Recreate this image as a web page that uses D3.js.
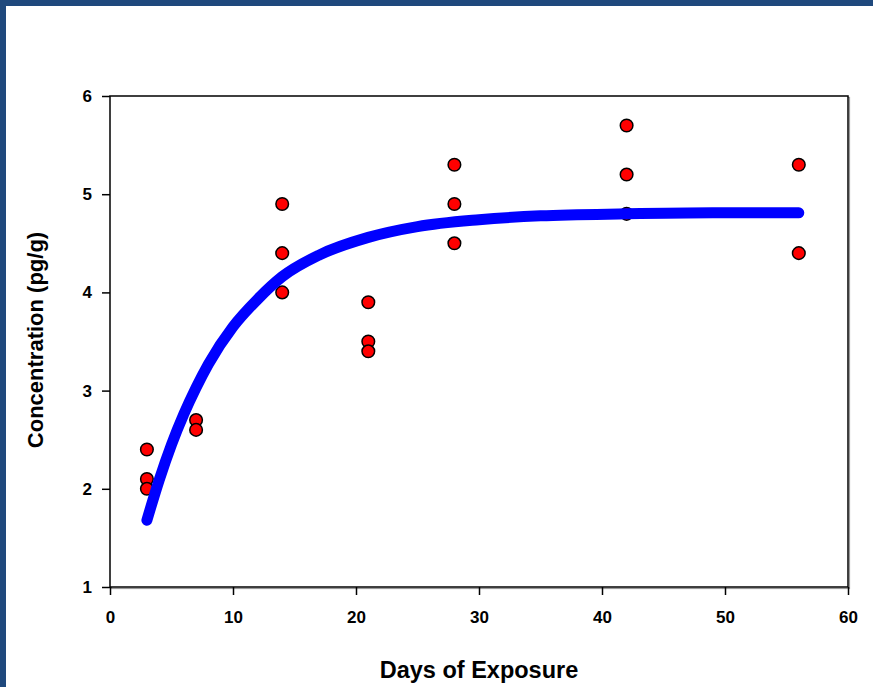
<!DOCTYPE html>
<html><head><meta charset="utf-8">
<script src="https://cdn.jsdelivr.net/npm/d3@7"></script>
<style>html,body{margin:0;padding:0;background:#fff;}svg{display:block;}</style>
</head><body>
<svg id="chart" width="873" height="687"></svg>
<script>
// Observed data points
const obsDays = [3,3,3, 7,7, 14,14,14, 21,21,21, 28,28,28, 42,42,42, 56,56];
const obsConc = [2.4,2.1,2.0, 2.7,2.6, 4.9,4.4,4.0, 3.9,3.5,3.4, 5.3,4.9,4.5, 5.7,5.2,4.8, 5.3,4.4];
// Fitted curve
const fitDays = [3,4,5,6,7,8,10,12,14,17,21,25,30,35,42,49,56];
const fitConc = [1.68,2.09,2.45,2.76,3.03,3.27,3.65,3.93,4.16,4.38,4.56,4.67,4.74,4.78,4.80,4.81,4.81];
const xTicks = [0,10,20,30,40,50,60];
const yTicks = [1,2,3,4,5,6];

const svg = d3.select("#chart");
// frame border (top and left bands)
svg.append("rect").attr("x",0).attr("y",0).attr("width",873).attr("height",6).attr("fill","#1f497d");
svg.append("rect").attr("x",0).attr("y",0).attr("width",6).attr("height",687).attr("fill","#1f497d");

const L=110, R=848, T=96, B=587;
const x = d3.scaleLinear().domain([0,60]).range([L,R]);
const y = d3.scaleLinear().domain([1,6]).range([B,T]);

// plot box shadow + frame
svg.append("rect").attr("x",L+1.5).attr("y",T+1.5).attr("width",R-L).attr("height",B-T)
  .attr("fill","none").attr("stroke","#999").attr("stroke-width",1.2);
svg.append("rect").attr("x",L).attr("y",T).attr("width",R-L).attr("height",B-T)
  .attr("fill","#fff").attr("stroke","#000").attr("stroke-width",1.5);

const font = "Arial, 'Liberation Sans', sans-serif";
const xAxis = svg.append("g").attr("transform",`translate(0,${B})`)
  .call(d3.axisBottom(x).tickValues(xTicks).tickSize(8).tickPadding(10).tickFormat(d3.format("d")));
const yAxis = svg.append("g").attr("transform",`translate(${L},0)`)
  .call(d3.axisLeft(y).tickValues(yTicks).tickSize(8).tickPadding(10).tickFormat(d3.format("d")));
[xAxis,yAxis].forEach(g=>{
  g.attr("font-size",null).attr("font-family",null);
  g.select(".domain").remove();
  g.selectAll(".tick line").attr("stroke","#000").attr("stroke-width",1.5);
  g.selectAll(".tick text").attr("fill","#000").style("font-family",font)
    .style("font-size","17px").style("font-weight","bold");
});
xAxis.selectAll(".tick text").attr("y",36).attr("dy",null);

// points
svg.append("g").selectAll("circle").data(obsDays).join("circle")
  .attr("cx",(d)=>x(d)).attr("cy",(d,i)=>y(obsConc[i])).attr("r",6.3)
  .attr("fill","#ff0000").attr("stroke","#000").attr("stroke-width",1.5);

// fitted curve
const line = d3.line().x(d=>x(d[0])).y(d=>y(d[1])).curve(d3.curveMonotoneX);
svg.append("path").datum(fitDays.map((d,i)=>[d,fitConc[i]])).attr("d",line)
  .attr("fill","none").attr("stroke","#0000ff").attr("stroke-width",11)
  .attr("stroke-linecap","round").attr("stroke-linejoin","round");

// axis titles
svg.append("text").attr("x",479).attr("y",678).attr("text-anchor","middle")
  .style("font-family",font).style("font-size","23.5px").style("font-weight","bold").text("Days of Exposure");
svg.append("text").attr("transform",`translate(43,340) rotate(-90)`).attr("text-anchor","middle")
  .style("font-family",font).style("font-size","22px").style("font-weight","bold").text("Concentration (pg/g)");
</script>
</body></html>
